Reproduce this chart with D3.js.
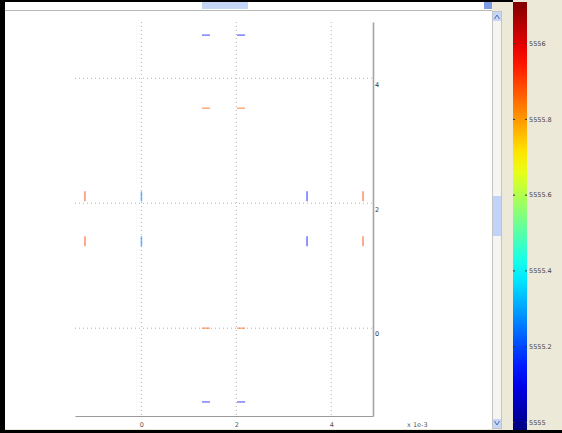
<!DOCTYPE html>
<html>
<head>
<meta charset="utf-8">
<script src="https://cdn.jsdelivr.net/npm/d3@7"></script>
<style>
  body { margin: 0; background: #ECE9D8; }
  text { font-family: "DejaVu Sans", sans-serif; }
</style>
</head>
<body>
<div id="my_dataviz"></div>
<script>
// horizontal dashes (x in 1e-3 units)
var hx = [1.36, 2.10, 1.36, 2.10, 1.36, 2.10, 1.36, 2.10]
var hy = [4.69, 4.69, 3.52, 3.52, 0, 0, -1.18, -1.18]
var hv = [5555.14, 5555.14, 5555.86, 5555.86, 5555.86, 5555.86, 5555.14, 5555.14]
// vertical dashes
var vx = [-1.19, -1.19, 0, 0, 3.49, 3.49, 4.67, 4.67]
var vy = [2.11, 1.39, 2.11, 1.39, 2.11, 1.39, 2.11, 1.39]
var vv = [5555.9, 5555.9, 5555.25, 5555.25, 5555.14, 5555.14, 5555.9, 5555.9]

var xTicks = [0, 2, 4]
var yTicks = [0, 2, 4]
var cTicks = [5555, 5555.2, 5555.4, 5555.6, 5555.8, 5556]
var cLabels = ["5555", "5555.2", "5555.4", "5555.6", "5555.8", "5556"]
var clim = [5554.98, 5556.11]

var W = 562, H = 433

var svg = d3.select("#my_dataviz")
    .append("svg")
    .attr("width", W)
    .attr("height", H)

// window background
svg.append("rect").attr("width", W).attr("height", H).attr("fill", "#ECE9D8")
svg.append("rect").attr("x", 5).attr("y", 2).attr("width", 487).attr("height", 427).attr("fill", "#fff")

// top strip with scroll thumb
svg.append("line").attr("x1", 5).attr("x2", 492).attr("y1", 10.5).attr("y2", 10.5)
    .attr("stroke", "#b8b8b8")
svg.append("rect").attr("x", 202).attr("y", 2).attr("width", 46).attr("height", 7)
    .attr("fill", "#C3D4F6")
svg.append("rect").attr("x", 484).attr("y", 2).attr("width", 8).attr("height", 7)
    .attr("fill", "#7C9BE2")

// vertical scrollbar
var sb = svg.append("g")
sb.append("rect").attr("x", 492.5).attr("y", 11.5).attr("width", 9).attr("height", 417)
    .attr("fill", "#F6F5F0").attr("stroke", "#c4c4c4")
sb.append("rect").attr("x", 493).attr("y", 12).attr("width", 8).attr("height", 9).attr("fill", "#C6D6F8")
sb.append("rect").attr("x", 493).attr("y", 419).attr("width", 8).attr("height", 9).attr("fill", "#C6D6F8")
sb.append("path").attr("d", "M494.5,19 L497,15 L499.5,19").attr("fill", "none").attr("stroke", "#5070b0")
sb.append("path").attr("d", "M494.5,421 L497,425 L499.5,421").attr("fill", "none").attr("stroke", "#5070b0")
sb.append("rect").attr("x", 493).attr("y", 196).attr("width", 8).attr("height", 40).attr("fill", "#C1D3FB")

// scales
var x = d3.scaleLinear().domain([-1.4, 4.88]).range([75, 373])
var y = d3.scaleLinear().domain([-1.405, 4.9]).range([416, 22])

function jet(t) {
    var c = function (v) { return Math.max(0, Math.min(1, v)) }
    var r = c(1.5 - Math.abs(4 * t - 3)), g = c(1.5 - Math.abs(4 * t - 2)), b = c(1.5 - Math.abs(4 * t - 1))
    return d3.rgb(r * 255, g * 255, b * 255).toString()
}
var color = d3.scaleLinear().domain(clim).range([0, 1]).clamp(true)

// grid
var grid = svg.append("g").attr("stroke", "#b4b4b4").attr("stroke-dasharray", "1,3")
grid.selectAll(".gx").data(xTicks).enter().append("line")
    .attr("x1", function (d) { return x(d) }).attr("x2", function (d) { return x(d) })
    .attr("y1", y.range()[1]).attr("y2", y.range()[0])
grid.selectAll(".gy").data(yTicks).enter().append("line")
    .attr("y1", function (d) { return y(d) }).attr("y2", function (d) { return y(d) })
    .attr("x1", x.range()[0]).attr("x2", x.range()[1])

// axes
var xAxis = svg.append("g")
    .attr("transform", "translate(0,416)")
    .call(d3.axisBottom(x).tickValues(xTicks).tickFormat(d3.format("d")).tickSize(0).tickPadding(6).tickSizeOuter(0))
xAxis.select(".domain").attr("stroke", "#9a9a9a").attr("stroke-width", 1.2)
xAxis.selectAll("text").attr("font-size", 6.5).attr("fill", "#555")

var yAxis = svg.append("g")
    .attr("transform", "translate(373,0)")
    .call(d3.axisRight(y).tickValues(yTicks).tickFormat(d3.format("d")).tickSize(0).tickPadding(2).tickSizeOuter(0))
yAxis.select(".domain").attr("stroke", "#a4a4a4").attr("stroke-width", 1.6)
yAxis.selectAll("text").attr("font-size", 6.5).attr("fill", "#333").attr("dy", "1.2em")

svg.append("text").attr("x", 407).attr("y", 427).attr("font-size", 6.5).attr("fill", "#555")
    .text("x 1e-3")

// marks
svg.append("g").selectAll("line").data(d3.range(hx.length)).enter().append("line")
    .attr("x1", function (i) { return x(hx[i]) - 4 }).attr("x2", function (i) { return x(hx[i]) + 4 })
    .attr("y1", function (i) { return y(hy[i]) }).attr("y2", function (i) { return y(hy[i]) })
    .attr("stroke", function (i) { return jet(color(hv[i])) })
    .attr("stroke-width", 1.6).attr("stroke-opacity", 0.5)
svg.append("g").selectAll("line").data(d3.range(vx.length)).enter().append("line")
    .attr("x1", function (i) { return x(vx[i]) }).attr("x2", function (i) { return x(vx[i]) })
    .attr("y1", function (i) { return y(vy[i]) - 5 }).attr("y2", function (i) { return y(vy[i]) + 5 })
    .attr("stroke", function (i) { return jet(color(vv[i])) })
    .attr("stroke-width", 1.6).attr("stroke-opacity", 0.55)

// colorbar
var cy = d3.scaleLinear().domain(clim).range([430, 2])
var defs = svg.append("defs")
var grad = defs.append("linearGradient").attr("id", "jet")
    .attr("x1", 0).attr("y1", 1).attr("x2", 0).attr("y2", 0)
grad.selectAll("stop").data(d3.range(0, 1.001, 0.05)).enter().append("stop")
    .attr("offset", function (d) { return d })
    .attr("stop-color", function (d) { return jet(d) })
svg.append("rect").attr("x", 513).attr("y", cy.range()[1]).attr("width", 14)
    .attr("height", cy.range()[0] - cy.range()[1]).attr("fill", "url(#jet)")
var cb = svg.append("g").selectAll("g").data(cTicks).enter().append("g")
    .attr("transform", function (d) { return "translate(0," + cy(d) + ")" })
cb.append("line").attr("x1", 513).attr("x2", 515).attr("stroke", "#333")
cb.append("line").attr("x1", 525).attr("x2", 527).attr("stroke", "#333")
cb.append("text").attr("x", 529).attr("dy", "0.35em").attr("font-size", 6.5).attr("fill", "#444")
    .text(function (d, i) { return cLabels[i] })

// black frame edges
svg.append("rect").attr("x", 0).attr("y", 0).attr("width", 5).attr("height", H).attr("fill", "#000")
svg.append("rect").attr("x", 0).attr("y", 0).attr("width", 513).attr("height", 2).attr("fill", "#000")
svg.append("rect").attr("x", 0).attr("y", 430).attr("width", W).attr("height", 3).attr("fill", "#000")
</script>
</body>
</html>
